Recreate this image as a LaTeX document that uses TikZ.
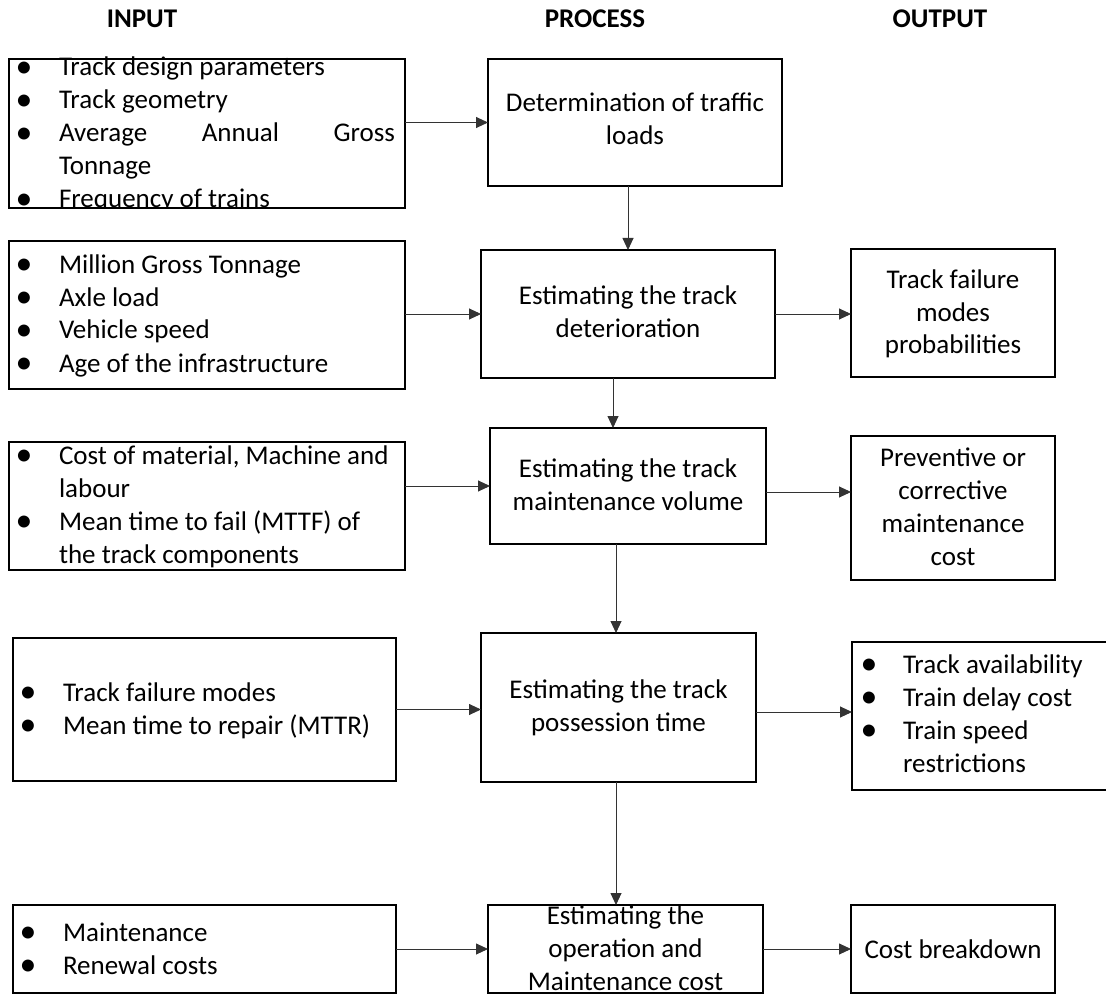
\documentclass[tikz,border=0pt]{standalone}
\usepackage{fontspec}
\setmainfont{Carlito}
\usepackage{graphicx}
\usetikzlibrary{arrows.meta,calc}
\newcommand\bul{\raisebox{-1.5pt}{\scalebox{1.25}{\textbullet}}}
\newcommand\bl[2][35]{\makebox[0pt][c]{\bul}\hspace{#1pt}#2}
\begin{document}
\begin{tikzpicture}[x=1pt,y=-1pt,
  box/.style={draw=black, line width=1.4pt, inner sep=0pt, outer sep=0pt, rectangle},
  txt/.style={inner sep=0pt, outer sep=0pt, font=\fontsize{27}{33}\selectfont},
  hdr/.style={inner sep=0pt, anchor=base, font=\fontsize{27}{33}\selectfont\bfseries},
  arr/.style={draw=black!80, line width=0.9pt, -{Triangle[length=12pt,width=11pt]}}]
\clip (0,0) rectangle (1106,995);
% headers
\node[hdr] (hin) at (142,28) {INPUT};
\node[hdr] (hpr) at (595,28) {PROCESS};
\node[hdr] (hout) at (940,28) {OUTPUT};
% boxes
\node[box, minimum width=396pt, minimum height=149pt] (i1) at (207,133.5) {};
\node[box, minimum width=396pt, minimum height=148pt] (i2) at (207,315) {};
\node[box, minimum width=396pt, minimum height=128pt] (i3) at (207,506) {};
\node[box, minimum width=383pt, minimum height=143pt] (i4) at (204.5,709.5) {};
\node[box, minimum width=383pt, minimum height=88pt] (i5) at (204.5,949) {};
\node[box, minimum width=294pt, minimum height=127pt] (p1) at (635,122.5) {};
\node[box, minimum width=294pt, minimum height=128pt] (p2) at (628,314) {};
\node[box, minimum width=276pt, minimum height=116pt] (p3) at (628,486) {};
\node[box, minimum width=275pt, minimum height=149pt] (p4) at (618.5,707.5) {};
\node[box, minimum width=275pt, minimum height=88pt] (p5) at (625.5,949) {};
\node[box, minimum width=204pt, minimum height=128pt] (o1) at (953,313) {};
\node[box, minimum width=204pt, minimum height=144pt] (o2) at (953,508) {};
\node[box, minimum width=278pt, minimum height=148pt] (o3) at (991,716) {};
\node[box, minimum width=204pt, minimum height=88pt] (o4) at (953,949) {};
% input texts
\begin{scope}
\clip (i1.south west) rectangle ([yshift=40pt]i1.north east);
\node[txt, anchor=base west] (i1t) at (24,76) {\parbox[t]{420pt}{\raggedright
\bl{Track design parameters}\\
\bl{Track geometry}\\
\bl{\makebox[336pt][s]{Average Annual Gross}}\\
\hspace*{35pt}Tonnage\\
\bl{Frequency of trains}}};
\end{scope}
\node[txt, anchor=base west] (i2t) at (24,273) {\parbox[t]{380pt}{\raggedright
\bl{Million Gross Tonnage}\\
\bl{Axle load}\\
\bl{Vehicle speed}\\
\bl{Age of the infrastructure}}};
\node[txt, anchor=base west] (i3t) at (24,464) {\parbox[t]{380pt}{\raggedright
\bl{Cost of material, Machine and}\\
\hspace*{35pt}labour\\
\bl{Mean time to fail (MTTF) of}\\
\hspace*{35pt}the track components}};
\node[txt, anchor=base west] (i4t) at (28,701) {\parbox[t]{360pt}{\raggedright
\bl{Track failure modes}\\
\bl{Mean time to repair (MTTR)}}};
\node[txt, anchor=base west] (i5t) at (28,941) {\parbox[t]{360pt}{\raggedright
\bl{Maintenance}\\
\bl{Renewal costs}}};
% process texts
\node[txt, anchor=base] (p1t) at (635,112) {\parbox[t]{290pt}{\centering Determination of traffic\\loads}};
\node[txt, anchor=base] (p2t) at (628,304) {\parbox[t]{290pt}{\centering Estimating the track\\deterioration}};
\node[txt, anchor=base] (p3t) at (628,477) {\parbox[t]{270pt}{\centering Estimating the track\\maintenance volume}};
\node[txt, anchor=base] (p4t) at (618.5,698) {\parbox[t]{270pt}{\centering Estimating the track\\possession time}};
\node[txt, anchor=base] (p5t) at (625.5,924) {\parbox[t]{270pt}{\centering Estimating the\\operation and\\Maintenance cost}};
% output texts
\node[txt, anchor=base] (o1t) at (953,288) {\parbox[t]{200pt}{\centering Track failure\\modes\\probabilities}};
\node[txt, anchor=base] (o2t) at (953,466) {\parbox[t]{200pt}{\centering Preventive or\\corrective\\maintenance\\cost}};
\node[txt, anchor=base west] (o3t) at (869,673) {\parbox[t]{240pt}{\raggedright
\bl[34]{Track availability}\\
\bl[34]{Train delay cost}\\
\bl[34]{Train speed}\\
\hspace*{34pt}restrictions}};
\node[txt, anchor=base] (o4t) at (953,958) {Cost breakdown};
% connectors
\draw[arr] (i1.east |- p1.west) -- (p1.west);
\draw[arr] (i2.east |- p2.west) -- (p2.west);
\draw[arr] (i3.east |- p3.west) -- (p3.west);
\draw[arr] (i4.east) -- (i4.east -| p4.west);
\draw[arr] (i5.east) -- (i5.east -| p5.west);
\draw[arr] (p2.east) -- (p2.east -| o1.west);
\coordinate (p3o) at ([yshift=-6pt]p3.east);
\draw[arr] (p3o) -- (p3o -| o2.west);
\coordinate (p4o) at ([yshift=-4.5pt]p4.east);
\draw[arr] (p4o) -- (p4o -| o3.west);
\draw[arr] (p5.east) -- (p5.east -| o4.west);
\draw[arr] (p1.south -| p2.north) -- (p2.north);
\coordinate (c23) at ([xshift=-15pt]p2.south);
\draw[arr] (c23) -- (c23 |- p3.north);
\coordinate (c34) at ([xshift=-12pt]p3.south);
\draw[arr] (c34) -- (c34 |- p4.north);
\coordinate (c45) at ([xshift=-2.5pt]p4.south);
\draw[arr] (c45) -- (c45 |- p5.north);
\end{tikzpicture}
\end{document}
